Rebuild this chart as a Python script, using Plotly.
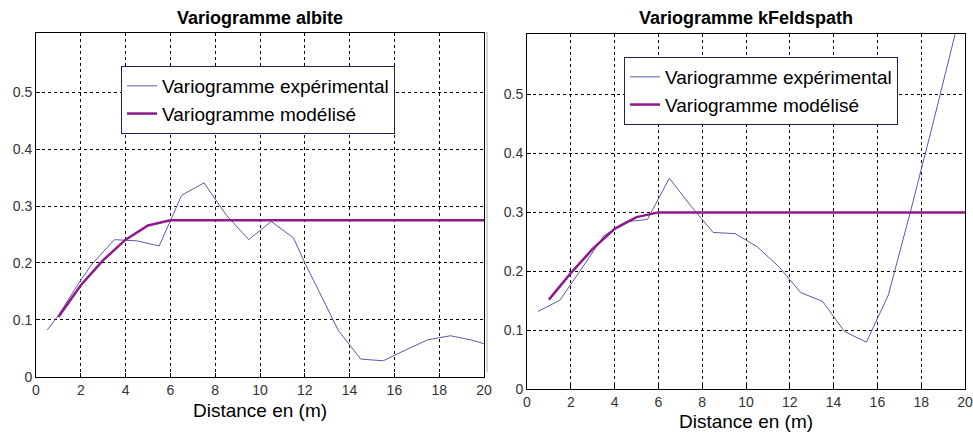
import plotly.graph_objects as go

# ---- data ----
alb_exp_x = [0.5, 1.0, 2.0, 2.5, 3.5, 4.5, 5.5, 6.0, 6.5, 7.5, 8.5, 9.5, 10.5, 11.5, 12.0, 12.5, 13.5, 14.5, 15.5, 16.5, 17.5, 18.5, 19.5, 20.5]
alb_exp_y = [0.082, 0.108, 0.170, 0.198, 0.241, 0.239, 0.230, 0.275, 0.319, 0.341, 0.284, 0.241, 0.273, 0.244, 0.200, 0.161, 0.081, 0.031, 0.028, 0.047, 0.065, 0.072, 0.064, 0.052]
alb_mod_x = [1, 2, 3, 4, 5, 6, 7, 8, 9, 10, 11, 12, 13, 14, 15, 16, 17, 18, 19, 20]
alb_mod_y = [0.105, 0.161, 0.205, 0.241, 0.266, 0.275, 0.275, 0.275, 0.275, 0.275, 0.275, 0.275, 0.275, 0.275, 0.275, 0.275, 0.275, 0.275, 0.275, 0.275]

kfs_exp_x = [0.5, 1.5, 2.5, 3.5, 4.5, 5.5, 6.5, 7.5, 8.5, 9.5, 10.5, 11.5, 12.5, 13.5, 14.5, 15.5, 16.5, 17.5, 18.5, 19.5, 20.5]
kfs_exp_y = [0.132, 0.151, 0.205, 0.260, 0.284, 0.288, 0.358, 0.310, 0.266, 0.264, 0.242, 0.208, 0.164, 0.149, 0.098, 0.080, 0.160, 0.300, 0.445, 0.595, 0.745]
kfs_mod_x = [1, 2, 3, 4, 5, 6, 7, 8, 9, 10, 11, 12, 13, 14, 15, 16, 17, 18, 19, 20]
kfs_mod_y = [0.152, 0.197, 0.238, 0.272, 0.292, 0.300, 0.300, 0.300, 0.300, 0.300, 0.300, 0.300, 0.300, 0.300, 0.300, 0.300, 0.300, 0.300, 0.300, 0.300]

x_ticks = [0, 2, 4, 6, 8, 10, 12, 14, 16, 18, 20]
y_ticks = [0, 0.1, 0.2, 0.3, 0.4, 0.5]
y_tick_text = ["0", "0.1", "0.2", "0.3", "0.4", "0.5"]

titles = ["Variogramme albite", "Variogramme kFeldspath"]
xlabel = "Distance en (m)"
name_exp = "Variogramme expérimental"
name_mod = "Variogramme modélisé"

W, H = 973, 434
EXP_COLOR = "#5a5aa8"
MOD_COLOR = "#8c1a8c"
FONT = "Arial, Liberation Sans, sans-serif"

fig = go.Figure()

fig.add_trace(go.Scatter(x=alb_exp_x, y=alb_exp_y, mode="lines", name=name_exp,
                         line=dict(color=EXP_COLOR, width=1), xaxis="x", yaxis="y", legend="legend"))
fig.add_trace(go.Scatter(x=alb_mod_x, y=alb_mod_y, mode="lines", name=name_mod,
                         line=dict(color=MOD_COLOR, width=2.5), xaxis="x", yaxis="y", legend="legend"))
fig.add_trace(go.Scatter(x=kfs_exp_x, y=kfs_exp_y, mode="lines", name=name_exp,
                         line=dict(color=EXP_COLOR, width=1), xaxis="x2", yaxis="y2", legend="legend2"))
fig.add_trace(go.Scatter(x=kfs_mod_x, y=kfs_mod_y, mode="lines", name=name_mod,
                         line=dict(color=MOD_COLOR, width=2.5), xaxis="x2", yaxis="y2", legend="legend2"))

# pixel geometry of the two axes boxes
L = dict(x0=36, x1=484, y0=376.7, y1=33.3)
R = dict(x0=527, x1=965, y0=389.3, y1=34.3)

def px(v):
    return v / W

def py(v):
    return 1 - v / H

axis_common = dict(
    showline=True, linecolor="black", linewidth=1, mirror=True,
    ticks="inside", ticklen=4, tickcolor="black",
    showgrid=True, gridcolor="black", gridwidth=1, griddash="3px,3px",
    zeroline=False, automargin=False,
    tickfont=dict(family=FONT, size=14, color="#333333"),
)

fig.update_layout(
    width=W, height=H,
    margin=dict(l=0, r=0, t=0, b=0),
    paper_bgcolor="white", plot_bgcolor="white",
    font=dict(family=FONT),
    xaxis=dict(domain=[px(L["x0"]), px(L["x1"])], range=[0, 20], tickvals=x_ticks, anchor="y", **axis_common),
    yaxis=dict(domain=[py(L["y0"]), py(L["y1"])], range=[0, 0.604], tickvals=y_ticks, ticktext=y_tick_text,
               anchor="x", **axis_common),
    xaxis2=dict(domain=[px(R["x0"]), px(R["x1"])], range=[0, 20], tickvals=x_ticks, anchor="y2", **axis_common),
    yaxis2=dict(domain=[py(R["y0"]), py(R["y1"])], range=[0, 0.602], tickvals=y_ticks, ticktext=y_tick_text,
                anchor="x2", **axis_common),
    legend=dict(x=px(121), y=py(66), xanchor="left", yanchor="top",
                bgcolor="white", bordercolor="#202060", borderwidth=1,
                font=dict(family=FONT, size=19, color="black"), tracegroupgap=0, itemwidth=30),
    legend2=dict(x=px(624), y=py(57), xanchor="left", yanchor="top",
                 bgcolor="white", bordercolor="#202060", borderwidth=1,
                 font=dict(family=FONT, size=19, color="black"), tracegroupgap=0, itemwidth=30),
    showlegend=True,
)

annotations = [
    dict(text="<b>" + titles[0] + "</b>", x=px((L["x0"] + L["x1"]) / 2), y=py(18), xref="paper", yref="paper",
         showarrow=False, font=dict(family=FONT, size=18, color="black"), xanchor="center", yanchor="middle"),
    dict(text="<b>" + titles[1] + "</b>", x=px((R["x0"] + R["x1"]) / 2), y=py(18), xref="paper", yref="paper",
         showarrow=False, font=dict(family=FONT, size=18, color="black"), xanchor="center", yanchor="middle"),
    dict(text=xlabel, x=px((L["x0"] + L["x1"]) / 2), y=py(410), xref="paper", yref="paper",
         showarrow=False, font=dict(family=FONT, size=19, color="black"), xanchor="center", yanchor="middle"),
    dict(text=xlabel, x=px((R["x0"] + R["x1"]) / 2), y=py(421), xref="paper", yref="paper",
         showarrow=False, font=dict(family=FONT, size=19, color="black"), xanchor="center", yanchor="middle"),
]
fig.update_layout(annotations=annotations)

fig.add_shape(type="line", xref="paper", yref="paper", x0=px(487), x1=px(487), y0=py(372), y1=py(32),
              line=dict(color="#aaaaaa", width=1))

fig.write_html("out.html", config={"displayModeBar": False},
               post_script="document.body.style.margin='0';document.body.style.padding='0';")
